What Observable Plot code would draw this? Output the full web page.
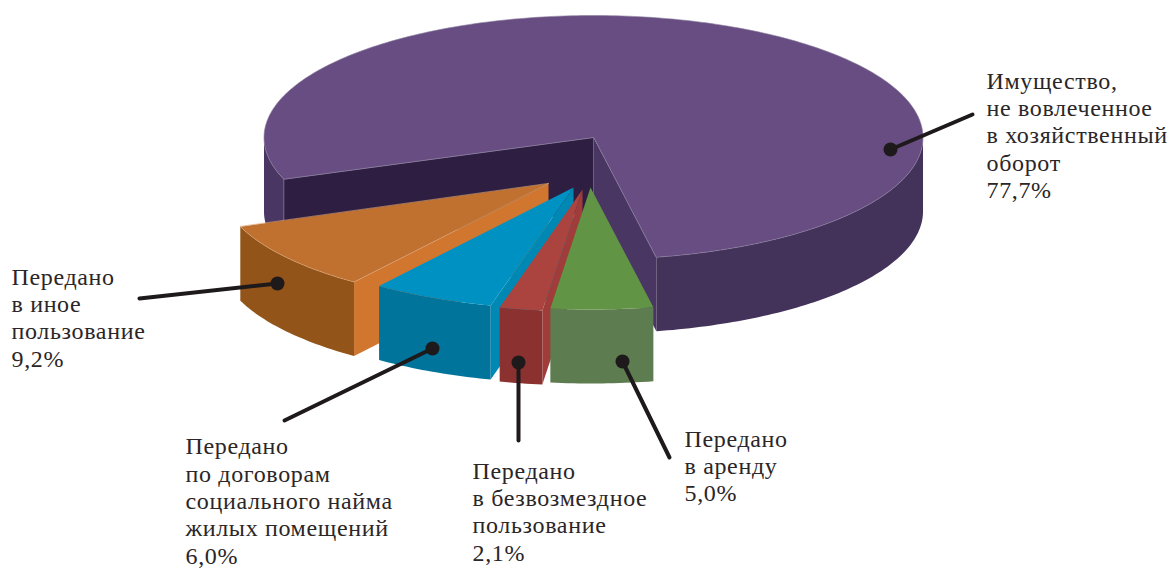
<!DOCTYPE html>
<html lang="ru">
<head>
<meta charset="utf-8">
<script src="https://cdn.jsdelivr.net/npm/d3@7"></script>
<script src="https://cdn.jsdelivr.net/npm/@observablehq/plot@0.6"></script>
<style>html,body{margin:0;padding:0;background:#fff}svg{display:block}</style>
</head>
<body>
<div id="chart"></div>
<script>
// Data, in drawing order
const categories = ["Передано\nв аренду", "Передано\nв безвозмездное\nпользование", "Передано\nпо договорам\nсоциального найма\nжилых помещений", "Передано\nв иное\nпользование", "Имущество,\nне вовлеченное\nв хозяйственный\nоборот"];
const values = [5.0, 2.1, 6.0, 9.2, 77.7];
const valueLabels = ["5,0%", "2,1%", "6,0%", "9,2%", "77,7%"];

// Styles
const topColors = ["#629446", "#ab433f", "#0091c3", "#c0702f", "#674d82"];
const sideColors = ["#5d7c4f", "#a03d3a", "#0088b5", "#d1762f", "#4a3662"];
const wallColors = ["#5d7c4f", "#8b312f", "#00749b", "#935419", "#433259"];
const innerColor = "#2e1f42";
const inkColor = "#1e1a1b";
const textColor = "#2b2627";

// Projection of the tilted pie, in chart units
const rx = 329.5, ry = 122, depth = 74, startDeg = 79;
const centers = [[590, 187], [582, 189], [573, 187], [548, 183], [593, 137]];
const leaderFrom = [[622, 361], [518, 362], [432, 348], [277, 283], [890, 149]];
const leaderTo = [[669, 457], [518, 440], [284, 420], [139, 298], [972, 114]];
const labelAt = [[684, 427], [472, 459], [185, 434.5], [11, 265], [986, 69]];

const rad = d => d * Math.PI / 180;
const at = (c, t, dz = 0) => ({x: c[0] + rx * Math.cos(rad(t)), y: c[1] + ry * Math.sin(rad(t)) + dz});
const arc = (c, a, b, dz = 0) => {
  const n = Math.max(2, Math.ceil(Math.abs(b - a)));
  return d3.range(n + 1).map(i => at(c, a + (b - a) * i / n, dz));
};
const apex = (c, dz = 0) => ({x: c[0], y: c[1] + dz});

// Slice angles from the values
let cursor = startDeg;
const slices = values.map((v, i) => {
  const a = cursor, b = cursor + v * 3.6;
  cursor = b;
  return {a, b, i};
});
// The large slice closes at its own cut, leaving the drawn gap
slices[4].a = 160; slices[4].b = 360 + startDeg;

const faces = [];
const face = (pts, fill, stroke = "none") => faces.push({pts, fill, stroke});

// Large slice
{
  const c = centers[4];
  face([...arc(c, 160, 180), ...arc(c, 180, 160, depth)], sideColors[4]);
  face([apex(c), at(c, 160), at(c, 160, depth), apex(c, depth)], innerColor, "#8d7fa0");
  face([apex(c), at(c, startDeg), at(c, startDeg, depth), apex(c, depth)], sideColors[4]);
  face([...arc(c, 0, startDeg), ...arc(c, startDeg, 0, depth)], wallColors[4]);
  face([apex(c), ...arc(c, slices[4].a, slices[4].b)], topColors[4], "#8d7fa0");
}
// Pulled-out slices, back to front
for (const i of [3, 2, 1, 0]) {
  const {a, b} = slices[i], c = centers[i];
  if (a > 90) face([apex(c), at(c, a), at(c, a, depth), apex(c, depth)], sideColors[i]);
  face([...arc(c, a, b), ...arc(c, b, a, depth)], wallColors[i]);
  face([apex(c), ...arc(c, a, b)], topColors[i], i === 3 ? "#d9a679" : "none");
}

const leaders = leaderFrom.map((p, i) => [{x: p[0], y: p[1]}, {x: leaderTo[i][0], y: leaderTo[i][1]}]);
const labels = categories.map((t, i) => ({x: labelAt[i][0], y: labelAt[i][1], text: t + "\n" + valueLabels[i]}));

const chart = Plot.plot({
  width: 1171,
  height: 569,
  margin: 0,
  x: {domain: [0, 1171], range: [0, 1171], axis: null},
  y: {domain: [0, 569], range: [0, 569], axis: null},
  style: {background: "#fff"},
  marks: [
    ...faces.map(f => Plot.line(f.pts, {x: "x", y: "y", curve: "linear-closed", fill: f.fill, stroke: f.stroke, strokeWidth: 0.6})),
    ...leaders.map(l => Plot.line(l, {x: "x", y: "y", stroke: inkColor, strokeWidth: 4})),
    Plot.dot(leaderFrom.map(p => ({x: p[0], y: p[1]})), {x: "x", y: "y", r: 7, fill: inkColor, stroke: "none"}),
    Plot.text(labels, {
      x: "x", y: "y", text: "text",
      textAnchor: "start", lineAnchor: "top", lineHeight: 1.1375,
      fontFamily: "Liberation Serif", fontSize: 24, fill: textColor, stroke: "none"
    })
  ]
});
chart.querySelectorAll("text").forEach(t => t.style.letterSpacing = "0.65px");
document.getElementById("chart").append(chart);
</script>
</body>
</html>
